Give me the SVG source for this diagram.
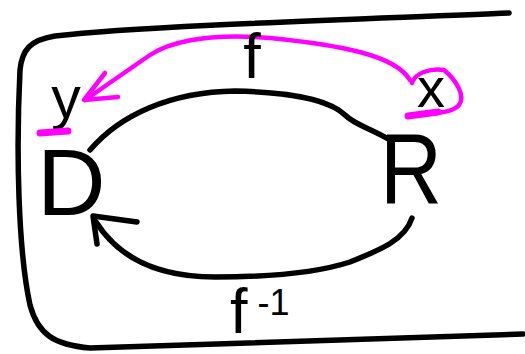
<svg xmlns="http://www.w3.org/2000/svg" width="525" height="354" viewBox="0 0 525 354">
  <style>
    .ink { fill: none; stroke: #000; stroke-width: 5.5; stroke-linecap: round; stroke-linejoin: round; }
    .pink { fill: none; stroke: #ff00ff; stroke-width: 4.5; stroke-linecap: round; stroke-linejoin: round; }
    .mark { fill: none; stroke: #ff00ff; stroke-width: 7; stroke-linecap: round; }
    .lbl { font-family: "Liberation Sans", Arial, sans-serif; fill: #000; }
  </style>
  <rect width="525" height="354" fill="#fff"/>
  <g id="frame">
    <path class="ink" stroke-width="6" d="M 509 13 C 400 18, 150 25, 55 36 C 30 40, 22 50, 20 70 C 16 150, 18 250, 30 305 C 38 335, 55 345, 90 348 L 523 334"/>
  </g>
  <g id="connectors">
    <path class="ink" d="M 90 150 C 120 115, 170 92, 235 91 C 290 92, 330 100, 345 115 C 355 125, 370 128, 390 140"/>
    <path class="ink" d="M 412 218 C 405 240, 380 250, 350 262 C 310 275, 250 277, 215 277 C 160 277, 120 260, 96 222"/>
    <path class="ink" d="M 137 222 L 93 216 L 97 244"/>
    <path class="pink" d="M 410 80 C 395 55, 340 45, 270 38 C 200 32, 165 45, 150 55 L 85 100"/>
    <path class="pink" d="M 105 73 L 84 100 L 118 97"/>
    <text class="lbl" x="252" y="78" font-size="63" text-anchor="middle">f</text>
    <text class="lbl" x="230" y="333" font-size="63">f<tspan font-size="36" dx="10" dy="-18">-1</tspan></text>
  </g>
  <g id="node-D">
    <text class="lbl" x="37" y="215" font-size="95">D</text>
  </g>
  <g id="node-R">
    <text class="lbl" x="380" y="204" font-size="100" textLength="62" lengthAdjust="spacingAndGlyphs">R</text>
  </g>
  <g id="node-y">
    <text class="lbl" x="66" y="118" font-size="59" text-anchor="middle">y</text>
    <path class="mark" d="M 40 133 L 68 131"/>
  </g>
  <g id="node-x">
    <text class="lbl" x="431" y="107" font-size="56" text-anchor="middle">x</text>
    <path class="pink" d="M 412 83 C 415 73, 430 68, 444 70 C 456 80, 466 96, 459 105 C 453 112, 440 113, 430 113"/>
    <path class="mark" d="M 408 116 L 438 112"/>
  </g>
</svg>
